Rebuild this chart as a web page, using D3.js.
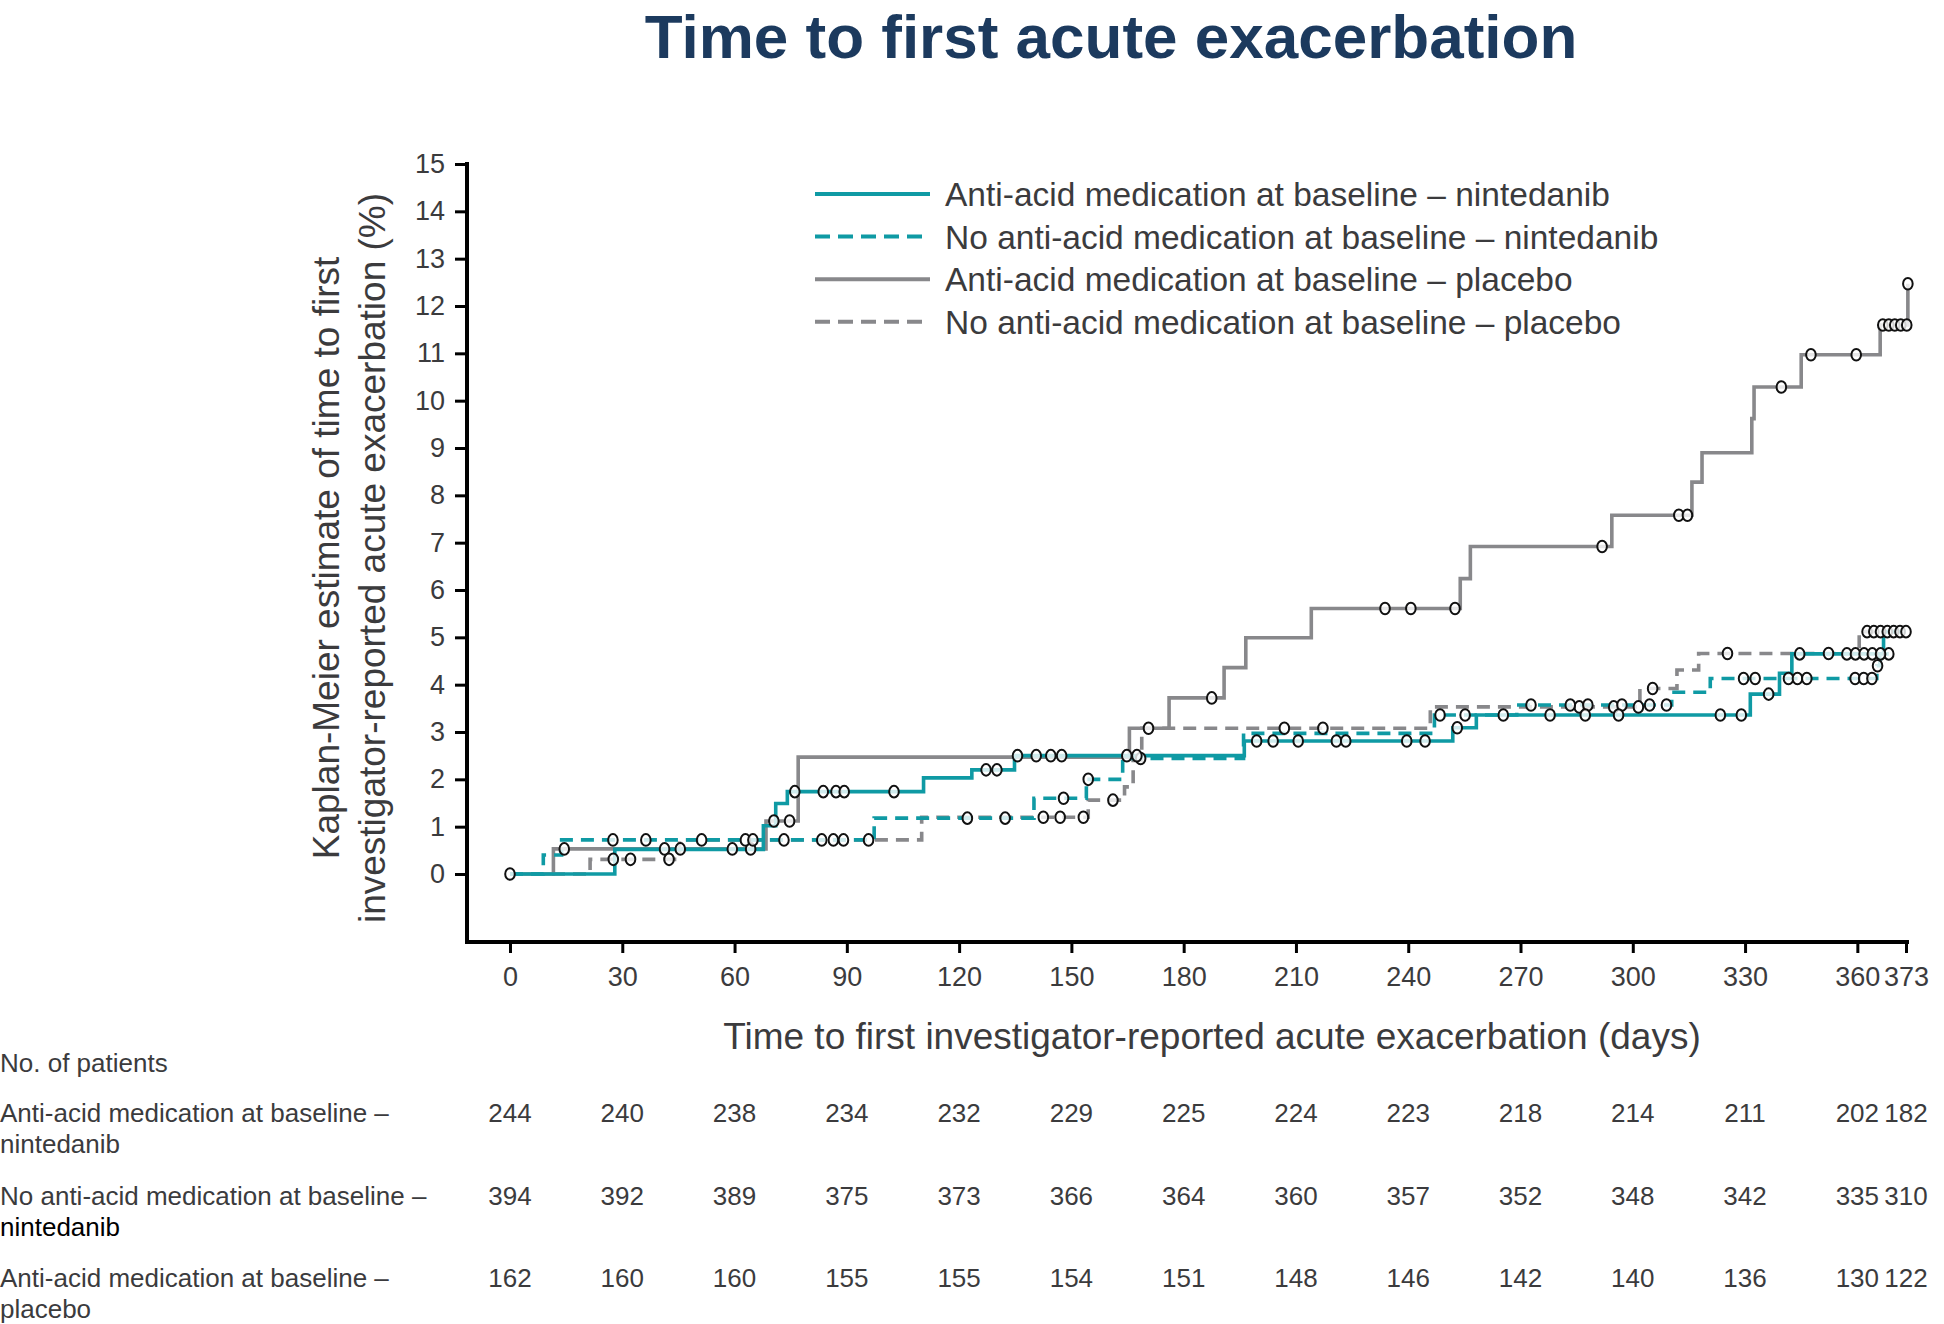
<!DOCTYPE html>
<html><head><meta charset="utf-8">
<script src="https://cdn.jsdelivr.net/npm/d3@7"></script>
<style>
body{margin:0;background:#fff}
svg{display:block;font-family:"Liberation Sans",Arial,Helvetica,sans-serif}
</style>
</head><body>
<svg id="chart" width="1944" height="1324"></svg>
<script>
// ---------------- data ----------------
const chartTitle = "Time to first acute exacerbation";
const xTitle = "Time to first investigator-reported acute exacerbation (days)";
const yTitleLines = ["Kaplan-Meier estimate of time to first", "investigator-reported acute exacerbation (%)"];
const seriesNames = [
  "Anti-acid medication at baseline – nintedanib",
  "No anti-acid medication at baseline – nintedanib",
  "Anti-acid medication at baseline – placebo",
  "No anti-acid medication at baseline – placebo"
];
const xTicks = [0, 30, 60, 90, 120, 150, 180, 210, 240, 270, 300, 330, 360, 373];
const yTicks = [0, 1, 2, 3, 4, 5, 6, 7, 8, 9, 10, 11, 12, 13, 14, 15];

// Anti-acid medication at baseline – nintedanib (teal, solid)
const aaNinTimes  = [0, 28, 67.7, 71, 74.1, 110.5, 123.4, 134.8, 196.2, 251.9, 258.2, 331.4, 339.2, 342.5, 367, 373];
const aaNinValues = [0, 0.52, 1.02, 1.49, 1.74, 2.03, 2.20, 2.50, 2.81, 3.09, 3.36, 3.80, 4.24, 4.65, 5.12, 5.12];
const aaNinCensor = [0, 76.1, 83.7, 87.1, 89.3, 102.6, 127.2, 130.1, 135.6, 140.6, 144.5, 147.4, 164.8, 167.5,
  199.5, 203.9, 210.6, 220.8, 223.3, 239.6, 244.5, 253.1, 265.4, 277.9, 287.3, 296.2, 323.4, 329, 336.3,
  344.6, 357.2, 359.5, 361.8, 364, 366.2, 368, 369.7, 371.4, 373];

// No anti-acid medication at baseline – nintedanib (teal, dashed)
const noNinTimes  = [0, 8.9, 13.8, 97.3, 140, 154, 163.7, 196, 247, 269, 310.4, 320.7, 365.2, 366, 368.4];
const noNinValues = [0, 0.40, 0.72, 1.18, 1.60, 2.00, 2.44, 2.97, 3.36, 3.57, 3.84, 4.13, 4.40, 4.65, 4.65];
const noNinCensor = [27.5, 36.3, 73.2, 83.3, 86.4, 89.1, 95.8, 122.2, 132.3, 147.9, 154.5, 168.5, 248.5, 255.2,
  272.8, 283.3, 288, 297.1, 304.5, 309, 329.6, 332.7, 341.6, 344, 346.5, 359.4, 361.7, 363.9, 365.4, 368.4];

// Anti-acid medication at baseline – placebo (grey, solid)
const aaPlaTimes  = [0, 11.6, 68.4, 77, 165.5, 176.1, 190.8, 196.6, 214.1, 253.9, 256.6, 294.4, 315.8, 318.5, 331.8, 332.4, 345, 366.1, 373.5];
const aaPlaValues = [0, 0.53, 1.12, 2.47, 3.08, 3.72, 4.36, 4.99, 5.61, 6.24, 6.92, 7.58, 8.28, 8.90, 9.62, 10.29, 10.97, 11.60, 12.47];
const aaPlaCensor = [14.5, 41.3, 45.5, 59.4, 64.3, 70.5, 74.7, 170.6, 187.5, 233.8, 240.7, 252.5, 291.8, 312.3, 314.6,
  339.7, 347.6, 359.7, 366.8, 368.4, 370, 371.6, 373.2, 373.5];

// No anti-acid medication at baseline – placebo (grey, dashed)
const noPlaTimes  = [0, 21.4, 45.3, 110, 154.5, 164.2, 166.5, 168.8, 245.9, 301.9, 311.8, 317.6, 360.5, 373];
const noPlaValues = [0, 0.31, 0.72, 1.20, 1.56, 1.84, 2.40, 3.08, 3.53, 3.92, 4.31, 4.66, 5.12, 5.12];
const noPlaCensor = [27.6, 32.2, 42.5, 51.2, 62.9, 64.9, 142.5, 147, 153.2, 161.1, 206.9, 217.2, 285.7, 294.9, 301.5,
  305.3, 325.3, 352.3, 362.6, 364.4, 366.2];

// Numbers at risk (one value per x tick)
const riskHeader = "No. of patients";
const riskLabels = [
  ["Anti-acid medication at baseline –", "nintedanib"],
  ["No anti-acid medication at baseline –", "nintedanib"],
  ["Anti-acid medication at baseline –", "placebo"]
];
const riskAaNin = [244, 240, 238, 234, 232, 229, 225, 224, 223, 218, 214, 211, 202, 182];
const riskNoNin = [394, 392, 389, 375, 373, 366, 364, 360, 357, 352, 348, 342, 335, 310];
const riskAaPla = [162, 160, 160, 155, 155, 154, 151, 148, 146, 142, 140, 136, 130, 122];

// ---------------- drawing ----------------
const TEAL = "#0f9aa4", GREY = "#88888b", TXT = "#3b3b3d";
const svg = d3.select("#chart");

const x = d3.scaleLinear().domain([0, 373]).range([510, 1906]);
const y = d3.scaleLinear().domain([0, 15]).range([874, 164]);
const axisLeftX = 467, axisBottomY = 942;

// title
svg.append("text").attr("x", 1111).attr("y", 58).attr("text-anchor", "middle")
  .attr("font-size", 62).attr("font-weight", "bold").attr("fill", "#1c3a5e").text(chartTitle);

// axes
const gy = svg.append("g").attr("transform", `translate(${axisLeftX},0)`)
  .call(d3.axisLeft(y).tickValues(yTicks).tickSize(12).tickPadding(10).tickFormat(d3.format("d")));
gy.select(".domain").remove();
gy.selectAll(".tick line").attr("stroke", "#000").attr("stroke-width", 3);
gy.selectAll(".tick text").attr("font-size", 27).attr("fill", TXT).attr("font-family", "Liberation Sans, Arial, sans-serif");

const gx = svg.append("g").attr("transform", `translate(0,${axisBottomY})`)
  .call(d3.axisBottom(x).tickValues(xTicks).tickSize(11).tickPadding(14).tickFormat(d3.format("d")));
gx.select(".domain").remove();
gx.selectAll(".tick line").attr("stroke", "#000").attr("stroke-width", 3);
gx.selectAll(".tick text").attr("font-size", 27).attr("fill", TXT).attr("font-family", "Liberation Sans, Arial, sans-serif");

svg.append("line").attr("x1", axisLeftX).attr("x2", axisLeftX).attr("y1", y(15) - 2).attr("y2", axisBottomY + 2)
  .attr("stroke", "#000").attr("stroke-width", 4);
svg.append("line").attr("x1", axisLeftX - 2).attr("x2", x(373) + 3).attr("y1", axisBottomY).attr("y2", axisBottomY)
  .attr("stroke", "#000").attr("stroke-width", 4);

// axis titles
svg.append("text").attr("x", 1212).attr("y", 1049).attr("text-anchor", "middle")
  .attr("font-size", 37).attr("fill", TXT).text(xTitle);
yTitleLines.forEach((t, i) => {
  svg.append("text").attr("transform", `translate(${339 + i * 46},558) rotate(-90)`)
    .attr("text-anchor", "middle").attr("font-size", 37).attr("fill", TXT).text(t);
});

// curves
const series = [
  {times: aaPlaTimes, values: aaPlaValues, censor: aaPlaCensor, color: GREY, dash: null},
  {times: noPlaTimes, values: noPlaValues, censor: noPlaCensor, color: GREY, dash: "13,8"},
  {times: noNinTimes, values: noNinValues, censor: noNinCensor, color: TEAL, dash: "13,8"},
  {times: aaNinTimes, values: aaNinValues, censor: aaNinCensor, color: TEAL, dash: null}
];
const line = d3.line().x(d => x(d[0])).y(d => y(d[1])).curve(d3.curveStepAfter);
series.forEach(s => {
  const pts = s.times.map((t, i) => [t, s.values[i]]);
  svg.append("path").attr("d", line(pts)).attr("fill", "none").attr("stroke", s.color)
    .attr("stroke-width", 3.6).attr("stroke-dasharray", s.dash);
});
function valueAt(s, t) {
  let v = s.values[0];
  for (let i = 0; i < s.times.length; i++) if (s.times[i] <= t) v = s.values[i];
  return v;
}
series.forEach(s => {
  svg.append("g").selectAll("ellipse").data(s.censor).join("ellipse")
    .attr("cx", d => x(d)).attr("cy", d => y(valueAt(s, d)))
    .attr("rx", 4.8).attr("ry", 5.8).attr("fill", "#fff").attr("fill-opacity", 0.8)
    .attr("stroke", "#111").attr("stroke-width", 2);
});

// legend
const legendRows = [
  {color: TEAL, dash: null}, {color: TEAL, dash: "15,8"}, {color: GREY, dash: null}, {color: GREY, dash: "15,8"}
];
legendRows.forEach((r, i) => {
  const ly = 194 + i * 42.6;
  svg.append("line").attr("x1", 815).attr("x2", 930).attr("y1", ly).attr("y2", ly)
    .attr("stroke", r.color).attr("stroke-width", 4).attr("stroke-dasharray", r.dash);
  svg.append("text").attr("x", 945).attr("y", ly + 12).attr("font-size", 33.5).attr("fill", TXT).text(seriesNames[i]);
});

// numbers at risk
svg.append("text").attr("x", 0).attr("y", 1072).attr("font-size", 26).attr("fill", TXT).text(riskHeader);
const riskRows = [riskAaNin, riskNoNin, riskAaPla];
riskRows.forEach((row, i) => {
  const by = 1122 + i * 82.5;
  svg.append("text").attr("x", 0).attr("y", by).attr("font-size", 26).attr("fill", TXT).text(riskLabels[i][0]);
  svg.append("text").attr("x", 0).attr("y", by + 31).attr("font-size", 26)
    .attr("fill", i === 1 ? "#000" : TXT).text(riskLabels[i][1]);
  svg.append("g").selectAll("text").data(row).join("text")
    .attr("x", (d, j) => x(xTicks[j])).attr("y", by).attr("text-anchor", "middle")
    .attr("font-size", 26).attr("fill", TXT).text(d => d);
});
</script>
</body></html>
